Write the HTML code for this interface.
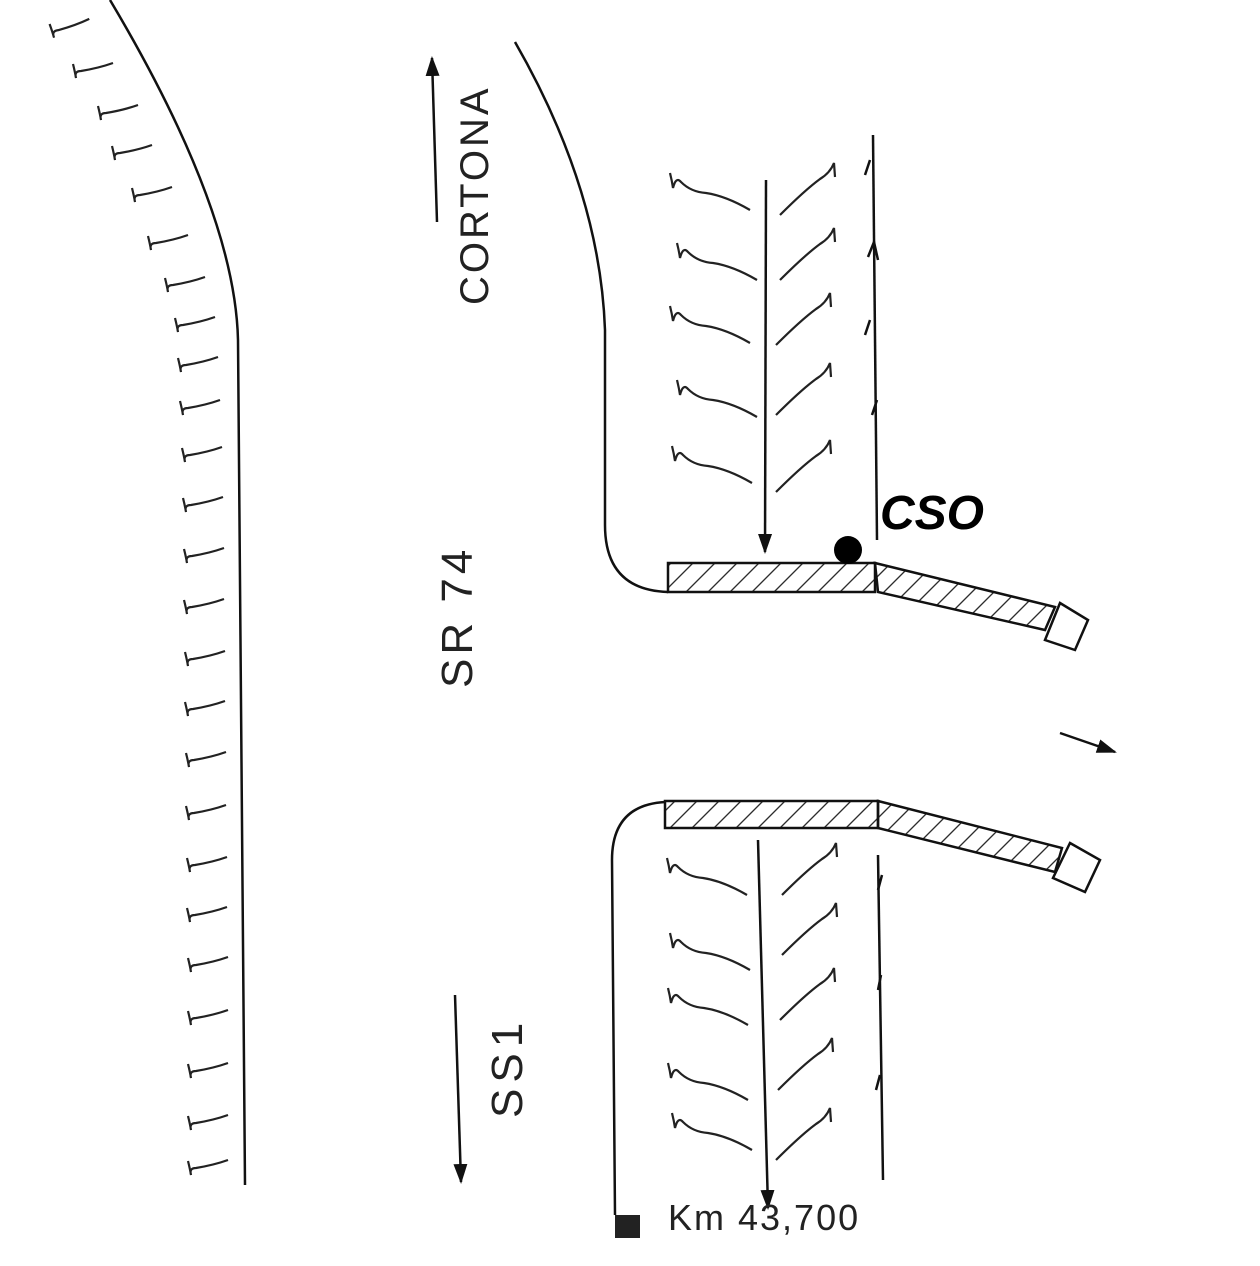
<!DOCTYPE html>
<html><head><meta charset="utf-8"><style>html,body{margin:0;padding:0;background:#fff}svg{display:block}</style></head>
<body>
<svg width="1260" height="1266" viewBox="0 0 1260 1266" xmlns="http://www.w3.org/2000/svg">
<defs>
<pattern id="h" width="22" height="30" patternUnits="userSpaceOnUse" patternTransform="skewX(-45)"><line x1="2" y1="0" x2="2" y2="30" stroke="#222" stroke-width="1.8"/></pattern>
<marker id="a" markerWidth="20" markerHeight="14" refX="18" refY="7" orient="auto" markerUnits="userSpaceOnUse"><path d="M0,0 L20,7 L0,14 z" fill="#111"/></marker>
<g id="tk"><path d="M0,-4 q2,8 3,14 q-2,-7 5,-7 q18,-3 32,-8" fill="none" stroke="#222" stroke-width="2.2"/></g>
<g id="gl"><path d="M0,-12 q2,8 3,15 q3,-12 8,-6 q10,10 25,11 q20,3 44,17" fill="none" stroke="#222" stroke-width="2.2"/></g>
<g id="gr"><path d="M0,0 q25,-25 40,-36 q10,-6 14,-16 l1,14" fill="none" stroke="#222" stroke-width="2.2"/></g>
</defs>
<g fill="none" stroke="#111" stroke-width="2.5">
<path d="M110,0 Q235,210 238,340 L245,1185"/>
<path d="M515,42 Q600,190 605,330 L605,525 Q605,590 668,592"/>
<rect x="668" y="563" width="207" height="29" fill="url(#h)"/>
<path d="M875,563 L1055,607 L1045,630 L878,592 Z" fill="url(#h)"/>
<path d="M1060,603 L1088,620 L1075,650 L1045,640 Z" fill="#fff"/>
<path d="M766,180 L765,552" marker-end="url(#a)"/>
<path d="M873,135 L877,540"/>
<rect x="665" y="801" width="213" height="27" fill="url(#h)"/>
<path d="M878,801 L1062,848 L1055,872 L878,828 Z" fill="url(#h)"/>
<path d="M1070,843 L1100,860 L1085,892 L1053,878 Z" fill="#fff"/>
<path d="M665,802 Q612,805 612,860 L615,1215"/>
<path d="M758,840 L768,1208" marker-end="url(#a)"/>
<path d="M878,855 L883,1180"/>
<path d="M1060,733 L1115,752" marker-end="url(#a)"/>
<path d="M437,222 L432,58" marker-end="url(#a)"/>
<path d="M455,995 L461,1182" marker-end="url(#a)"/>
<path d="M865,175 l5,-15 M868,257 l6,-15 l4,18 M865,335 l5,-15 M872,415 l5,-15 M878,990 l3,-15 M876,1090 l4,-15 M878,890 l4,-15"/>
</g>
<rect x="615" y="1215" width="25" height="23" fill="#222"/>
<circle cx="848" cy="550" r="14" fill="#000"/>
<use href="#tk" x="50" y="28" transform="rotate(-6 50 28)"/>
<use href="#tk" x="73" y="68"/><use href="#tk" x="98" y="110"/><use href="#tk" x="112" y="150"/>
<use href="#tk" x="132" y="192"/><use href="#tk" x="148" y="240"/><use href="#tk" x="165" y="282"/>
<use href="#tk" x="175" y="322"/><use href="#tk" x="178" y="362"/><use href="#tk" x="180" y="405"/>
<use href="#tk" x="182" y="452"/><use href="#tk" x="183" y="502"/><use href="#tk" x="184" y="553"/>
<use href="#tk" x="184" y="604"/><use href="#tk" x="185" y="656"/><use href="#tk" x="185" y="706"/>
<use href="#tk" x="186" y="757"/><use href="#tk" x="186" y="810"/><use href="#tk" x="187" y="862"/>
<use href="#tk" x="187" y="912"/><use href="#tk" x="188" y="962"/><use href="#tk" x="188" y="1015"/>
<use href="#tk" x="188" y="1068"/><use href="#tk" x="188" y="1120"/><use href="#tk" x="188" y="1165"/>
<use href="#gl" x="670" y="185"/><use href="#gl" x="677" y="255"/><use href="#gl" x="670" y="318"/><use href="#gl" x="677" y="392"/><use href="#gl" x="672" y="458"/>
<use href="#gr" x="780" y="215"/><use href="#gr" x="780" y="280"/><use href="#gr" x="776" y="345"/><use href="#gr" x="776" y="415"/><use href="#gr" x="776" y="492"/>
<use href="#gl" x="667" y="870"/><use href="#gl" x="670" y="945"/><use href="#gl" x="668" y="1000"/><use href="#gl" x="668" y="1075"/><use href="#gl" x="672" y="1125"/>
<use href="#gr" x="782" y="895"/><use href="#gr" x="782" y="955"/><use href="#gr" x="780" y="1020"/><use href="#gr" x="778" y="1090"/><use href="#gr" x="776" y="1160"/>
<g font-family="Liberation Sans, sans-serif" fill="#222">
<text x="0" y="0" transform="translate(488,305) rotate(-90)" font-size="40" letter-spacing="3">CORTONA</text>
<text x="0" y="0" transform="translate(472,688) rotate(-90)" font-size="44" letter-spacing="4">SR 74</text>
<text x="0" y="0" transform="translate(522,1118) rotate(-90)" font-size="44" letter-spacing="6">SS1</text>
<text x="668" y="1230" font-size="36" letter-spacing="2">Km 43,700</text>
<text x="880" y="529" font-size="48" font-weight="bold" font-style="italic" fill="#000">CSO</text>
</g>
</svg>
</body></html>
